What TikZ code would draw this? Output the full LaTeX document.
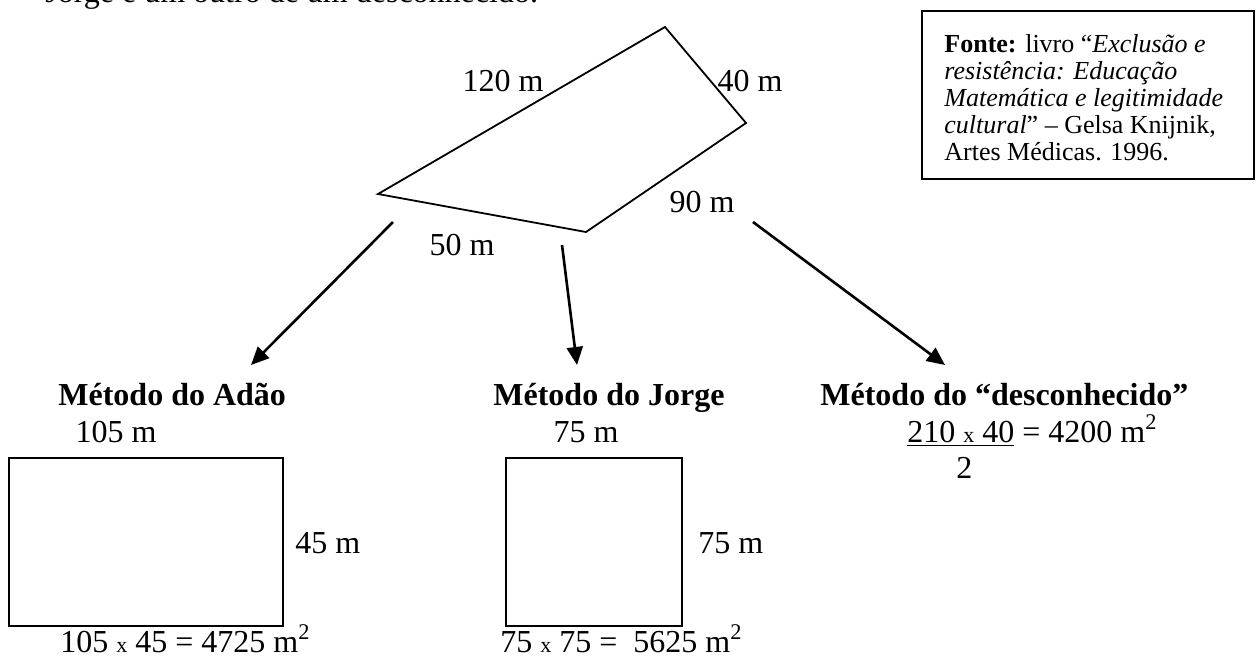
\documentclass[tikz,border=0pt]{standalone}
\usepackage{fontspec}
\setmainfont{Liberation Serif}
\usetikzlibrary{arrows.meta}
\newcommand{\smx}{{\fontsize{11}{11}\selectfont x}}
\begin{document}
\begin{tikzpicture}[x=0.5pt,y=-0.5pt,
  lbl/.style={font=\fontsize{16}{19}\selectfont, inner sep=0pt},
  ttl/.style={font=\bfseries\fontsize{16}{19}\selectfont, inner sep=0pt, anchor=base west},
  src/.style={font=\fontsize{13}{15}\selectfont, inner sep=0pt, anchor=base west},
  figline/.style={draw, line width=0.9pt, line join=miter},
  arr/.style={line width=1.3pt, -{Triangle[length=9pt,width=8pt]}},
]
\clip (0,0) rectangle (1258,660);
\node[lbl, anchor=base west] (intro) at (45,2) {Jorge e um outro de um desconhecido.};

% terrain
\coordinate (q1) at (665,27);
\coordinate (q2) at (746,123);
\coordinate (q3) at (586,232);
\coordinate (q4) at (378,194);
\draw[figline] (q1) -- (q2) -- (q3) -- (q4) -- cycle;
\node[lbl, anchor=base] (l120) at (503,91) {120 m};
\node[lbl, anchor=base] (l40) at (750,91) {40 m};
\node[lbl, anchor=base] (l90) at (702,212) {90 m};
\node[lbl, anchor=base] (l50) at (462,255) {50 m};

% source box
\node[draw, line width=0.9pt, anchor=north west, minimum width=166pt, minimum height=84pt, inner sep=0pt] (fonte) at (921,10) {};
\node[src] (f1) at (944,52) {\textbf{Fonte:} livro “\textit{Exclusão e}};
\node[src] (f2) at (944,79) {\textit{resistência: Educação}};
\node[src] (f3) at (944,106) {\textit{Matemática e legitimidade}};
\node[src] (f4) at (944,133) {\textit{cultural}” – Gelsa Knijnik,};
\node[src] (f5) at (944,160) {Artes Médicas. 1996.};

% arrows
\coordinate (a1s) at (393,222);
\coordinate (a1e) at (251,365);
\coordinate (a2s) at (562,245);
\coordinate (a2e) at (577,365);
\coordinate (a3s) at (753,222);
\coordinate (a3e) at (945,365);
\draw[arr] (a1s) -- (a1e);
\draw[arr] (a2s) -- (a2e);
\draw[arr] (a3s) -- (a3e);

% Adao
\node[ttl] (tA) at (58,405) {Método do Adão};
\node[lbl, anchor=base] (A105) at (116,442) {105 m};
\draw[figline] (9,458) rectangle (283,626);
\node[lbl, anchor=base west] (A45) at (295,553) {45 m};
\node[lbl, anchor=base west] (Af) at (60,652) {105 \smx{} 45 = 4725 m\textsuperscript{2}};

% Jorge
\node[ttl] (tJ) at (493,405) {Método do Jorge};
\node[lbl, anchor=base] (J75a) at (586,442) {75 m};
\draw[figline] (506,458) rectangle (682,626);
\node[lbl, anchor=base west] (J75b) at (698,553) {75 m};
\node[lbl, anchor=base west] (Jf) at (500,652) {75 \smx{} 75 = \ 5625 m\textsuperscript{2}};

% desconhecido
\node[ttl] (tD) at (820,405) {Método do “desconhecido”};
\node[lbl, anchor=base west] (Df) at (907,442) {\underline{210 \smx{} 40} = 4200 m\textsuperscript{2}};
\node[lbl, anchor=base west] (D2) at (956,478) {2};
\end{tikzpicture}
\end{document}
